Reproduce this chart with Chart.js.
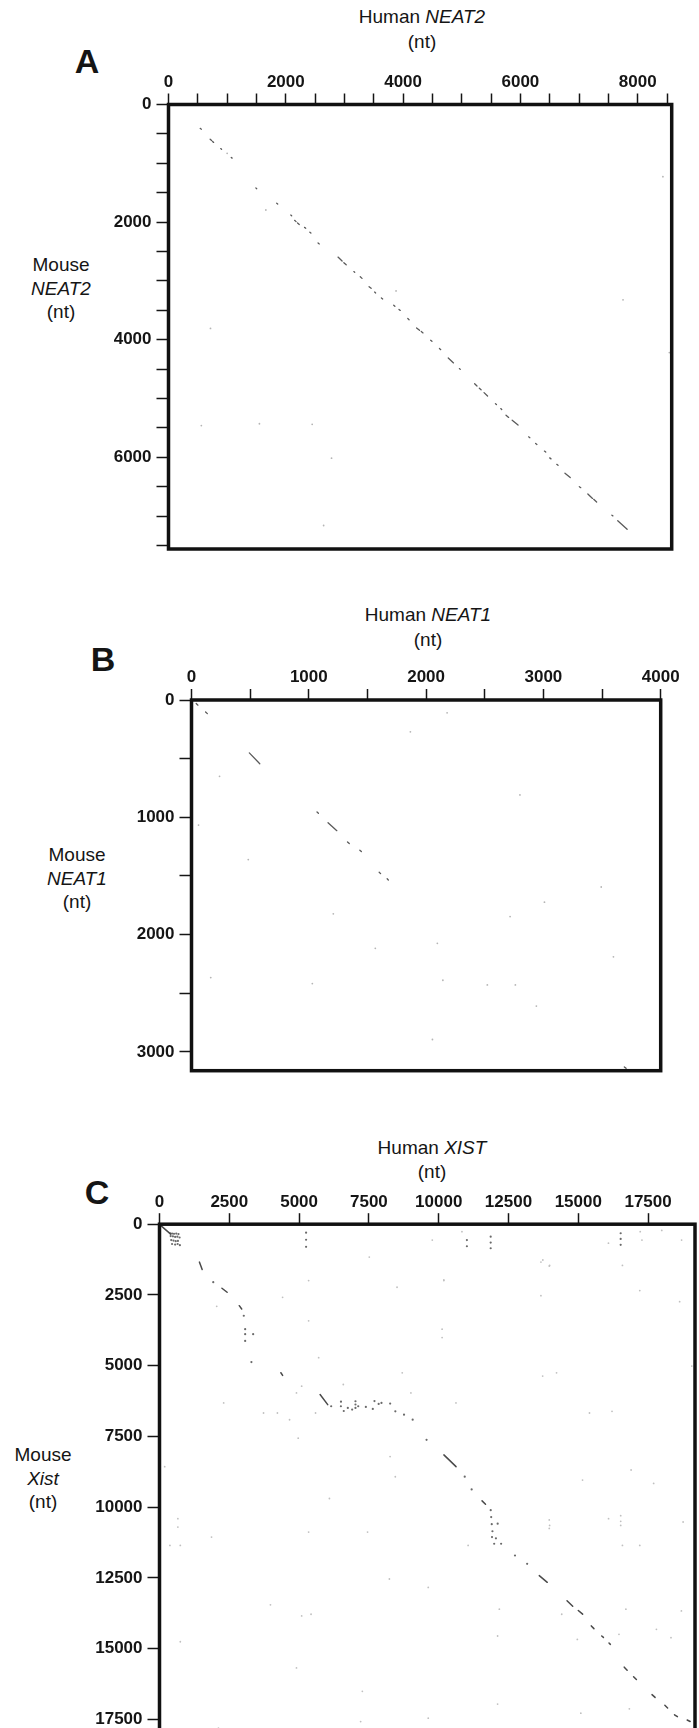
<!DOCTYPE html>
<html>
<head>
<meta charset="utf-8">
<script src="https://cdn.jsdelivr.net/npm/chart.js@4.4.0/dist/chart.umd.min.js"></script>
<style>
  html, body { margin: 0; padding: 0; background: #fff; }
  body { width: 699px; height: 1728px; overflow: hidden; position: relative;
         font-family: "Liberation Sans", Arial, sans-serif; color: #151515; }
  canvas { position: absolute; left: 0; }
  .lbl { position: absolute; font-size: 19px; line-height: 24px; white-space: nowrap;
         text-align: center; transform: translate(-50%, -50%); }
  .letter { position: absolute; font-size: 34px; font-weight: bold; transform: translate(-50%, -50%); }
</style>
</head>
<body>

<div class="letter" style="left:87px;top:61px">A</div>
<div class="lbl" style="left:422px;top:17px">Human <i>NEAT2</i></div>
<div class="lbl" style="left:422px;top:42px">(nt)</div>
<div class="lbl" style="left:61px;top:288px;line-height:23.5px">Mouse<br><i>NEAT2</i><br>(nt)</div>
<canvas id="chartA" width="699" height="570" style="top:0px"></canvas>

<div class="letter" style="left:103px;top:659px">B</div>
<div class="lbl" style="left:428px;top:615px">Human <i>NEAT1</i></div>
<div class="lbl" style="left:428px;top:640px">(nt)</div>
<div class="lbl" style="left:77px;top:878px;line-height:23.5px">Mouse<br><i>NEAT1</i><br>(nt)</div>
<canvas id="chartB" width="699" height="507" style="top:580px"></canvas>

<div class="letter" style="left:97px;top:1192px">C</div>
<div class="lbl" style="left:432px;top:1148px">Human <i>XIST</i></div>
<div class="lbl" style="left:432px;top:1172px">(nt)</div>
<div class="lbl" style="left:43px;top:1478px;line-height:23.5px">Mouse<br><i>Xist</i><br>(nt)</div>
<canvas id="chartC" width="699" height="667" style="top:1100px"></canvas>

<script>
// ---------- panel A : human NEAT2 (x) vs mouse NEAT2 (y) ----------
const A_X_TICKS = [0, 500, 1000, 1500, 2000, 2500, 3000, 3500, 4000, 4500, 5000, 5500, 6000, 6500, 7000, 7500, 8000, 8500];
const A_X_LABELS = [0, 2000, 4000, 6000, 8000];
const A_Y_TICKS = [0, 500, 1000, 1500, 2000, 2500, 3000, 3500, 4000, 4500, 5000, 5500, 6000, 6500, 7000, 7500];
const A_Y_LABELS = [0, 2000, 4000, 6000];

// dashes along the diagonal, start / end pairs split by null
const A_DASH_HUMAN = [540, 560, null, 710, 735, null, 752, 770, null, 890, 905, null, 1070, 1085, null, 1490, 1505, null,
  1845, 1862, null, 2085, 2100, null, 2150, 2175, null, 2200, 2230, null, 2320, 2340, null, 2410, 2428, null,
  2550, 2565, null, 2890, 2960, null, 2990, 3030, null, 3160, 3175, null, 3270, 3300, null, 3420, 3455, null,
  3515, 3532, null, 3630, 3652, null, 3840, 3860, null, 3930, 3952, null, 4080, 4102, null, 4230, 4280, null,
  4310, 4340, null, 4470, 4492, null, 4620, 4642, null, 4770, 4860, null, 4960, 4975, null, 5220, 5260, null,
  5300, 5330, null, 5380, 5440, null, 5575, 5592, null, 5665, 5682, null, 5755, 5800, null, 5860, 5960, null,
  6140, 6162, null, 6260, 6282, null, 6410, 6432, null, 6500, 6522, null, 6620, 6642, null, 6760, 6850, null,
  7005, 7030, null, 7150, 7230, null, 7250, 7300, null, 7560, 7577, null, 7660, 7820];
const A_DASH_MOUSE = [405, 420, null, 590, 612, null, 628, 645, null, 750, 762, null, 900, 912, null, 1420, 1432, null,
  1680, 1694, null, 1880, 1892, null, 1970, 1992, null, 2015, 2040, null, 2090, 2104, null, 2172, 2187, null,
  2355, 2367, null, 2595, 2662, null, 2690, 2725, null, 2842, 2854, null, 2930, 2957, null, 3100, 3127, null,
  3190, 3205, null, 3290, 3307, null, 3415, 3432, null, 3485, 3502, null, 3640, 3660, null, 3800, 3840, null,
  3860, 3885, null, 4010, 4027, null, 4150, 4170, null, 4310, 4395, null, 4492, 4505, null, 4750, 4788, null,
  4825, 4852, null, 4900, 4958, null, 5088, 5102, null, 5172, 5187, null, 5285, 5322, null, 5370, 5452, null,
  5652, 5667, null, 5765, 5782, null, 5895, 5912, null, 6010, 6027, null, 6120, 6137, null, 6270, 6345, null,
  6500, 6517, null, 6625, 6700, null, 6715, 6760, null, 6985, 6997, null, 7080, 7225];
const A_DOT_HUMAN = [8430, 7750, 560, 1550, 2450, 2780, 2645, 716, 3880, 1660, 8540, 1000];
const A_DOT_MOUSE = [1228, 3322, 5460, 5430, 5440, 6016, 7160, 3809, 3170, 1794, 4220, 830];

// ---------- panel B : human NEAT1 (x) vs mouse NEAT1 (y) ----------
const B_X_TICKS = [0, 500, 1000, 1500, 2000, 2500, 3000, 3500, 4000];
const B_X_LABELS = [0, 1000, 2000, 3000, 4000];
const B_Y_TICKS = [0, 500, 1000, 1500, 2000, 2500, 3000];
const B_Y_LABELS = [0, 1000, 2000, 3000];

const B_DASH_HUMAN = [493, 582, null, 1164, 1239, null, 40, 55, null, 120, 135, null, 1330, 1345, null,
  1435, 1448, null, 1600, 1612, null, 1668, 1678, null, 1070, 1082, null, 3690, 3705];
const B_DASH_MOUSE = [451, 543, null, 1046, 1114, null, 30, 44, null, 102, 116, null, 1210, 1224, null,
  1280, 1292, null, 1468, 1480, null, 1524, 1534, null, 955, 966, null, 3128, 3140];
const B_DOT_HUMAN = [239, 1866, 2179, 2800, 60, 484, 3493, 3009, 1209, 2716, 2096, 1567, 3597, 164, 1030,
  2143, 2522, 2761, 2940, 2054];
const B_DOT_MOUSE = [651, 271, 109, 809, 1066, 1360, 1594, 1723, 1823, 1846, 2074, 2117, 2189, 2366, 2417,
  2389, 2429, 2429, 2609, 2894];

// ---------- panel C : human XIST (x) vs mouse Xist (y) ----------
const C_X_TICKS = [0, 2500, 5000, 7500, 10000, 12500, 15000, 17500];
const C_Y_TICKS = [0, 2500, 5000, 7500, 10000, 12500, 15000, 17500];

const C_DASH_HUMAN = [60, 400, null, 1429, 1528, null, 2236, 2422, null, 2857, 2944, null, 4348, 4410, null,
  5752, 6025, null, 10186, 10621, null, 11553, 11677, null, 13602, 13888, null, 14596, 14800, null,
  15000, 15155, null, 15466, 15560, null, 15839, 15900, null, 16100, 16149, null, 16646, 16750, null,
  16980, 17081, null, 17640, 17750, null, 18100, 18199, null, 18447, 18550, null, 18900, 19006];
const C_DASH_MOUSE = [60, 350, null, 1339, 1600, null, 2263, 2405, null, 2879, 2998, null, 5249, 5344, null,
  6019, 6374, null, 8152, 8567, null, 9775, 9893, null, 12417, 12654, null, 13306, 13500, null,
  13650, 13780, null, 14194, 14290, null, 14550, 14600, null, 14800, 14846, null, 15652, 15760, null,
  15990, 16090, null, 16623, 16720, null, 17000, 17097, null, 17334, 17400, null, 17520, 17571];
// stronger matches: block at the 5' end, diagonal dots, the 6-7 kb band and the 11-12 kb streak
const C_HIT_HUMAN = [380, 450, 520, 600, 680, 400, 480, 560, 640, 720, 420, 500, 580, 660, 450, 560, 650, 730,
  1925, 3019, 3068, 3068, 3068, 3354, 3292, 6149, 6497, 6745, 7118, 7391, 7640, 7950, 8261, 8447, 8758, 9068,
  7019, 7019, 7019, 6500, 7700, 7850, 6600, 6900, 9565, 10932, 11180, 11863, 11880, 11900, 11925, 11910,
  12112, 12236, 11987, 12050, 12733, 13168, 5250, 5250, 5250, 11010, 11010, 11862, 11862, 11862, 16518, 16518, 16518];
const C_HIT_MOUSE = [320, 330, 340, 330, 350, 420, 430, 450, 440, 470, 560, 580, 600, 590, 700, 720, 700, 740,
  2050, 3235, 3709, 3886, 4123, 3886, 4870, 6433, 6433, 6493, 6433, 6457, 6528, 6315, 6339, 6611, 6730, 6908,
  6256, 6370, 6493, 6270, 6250, 6350, 6600, 6550, 7618, 8922, 9372, 10106, 10350, 10600, 10850, 11055,
  10581, 11291, 11291, 11100, 11706, 12002, 300, 550, 800, 560, 780, 440, 650, 850, 320, 520, 730];
// faint background matches
const C_NOISE_HUMAN = [9770, 10833, 13730, 13960, 16080, 17218, 17280, 17990, 18700, 10185, 5341, 4409, 2049,
  5341, 5701, 8694, 10184, 10122, 10122, 7514, 13662, 13973, 16581, 17202, 18630, 13662, 15401, 16208, 17699,
  15152, 16891, 13973, 16519, 16084, 18754, 16581, 658, 658, 373, 745, 1863, 5341, 7452, 11054, 8234, 9626,
  3974, 5092, 5428, 12172, 14407, 16705, 18693, 745, 4906, 7266, 12110, 16829, 15091, 2111, 7204, 9626, 8259,
  8446, 6086, 186, 16457, 14966, 12110, 4968, 4906, 5092, 6583, 9005, 10619, 3726, 2298, 4223, 5589, 4658,
  8508, 17202, 17798, 18320, 13724, 14221, 19065, 16519, 16519, 13960, 13960];
const C_NOISE_MOUSE = [560, 265, 1265, 1480, 670, 265, 560, 220, 560, 1970, 1991, 2583, 2903,
  3413, 4716, 5250, 1991, 3709, 4005, 1161, 1339, 1458, 1458, 2346, 2737, 2524, 6672, 6612, 9160,
  9041, 8686, 10642, 10642, 10404, 10523, 11352, 10404, 10701, 11352, 11352, 11056, 10878, 10878, 11352, 12537, 12834,
  13450, 13841, 13782, 13604, 13782, 13604, 13663, 14753, 15678, 16507, 16957, 17123, 17277, 17811, 17574, 17455, 8212,
  8923, 9693, 8568, 14492, 14670, 14551, 7560, 5961, 5724, 5664, 5961, 6316, 6672, 6316, 6672, 6672, 6909,
  2228, 11352, 14314, 14610, 5368, 5250, 5013, 10300, 10500, 10450, 10750];

// ---------- helpers ----------
function pts(xs, ys) {
  return xs.map((x, i) => ({ x: x, y: ys[i] }));
}

const TICK_FONT = { family: '"Liberation Sans", Arial, sans-serif', size: 17, weight: 'bold' };

function xAxis(max, ticks, labels, height) {
  return {
    type: 'linear', position: 'top', min: 0, max: max,
    afterBuildTicks: s => { s.ticks = ticks.map(v => ({ value: v })); },
    afterFit: s => { s.height = height; },
    ticks: {
      autoSkip: false, maxRotation: 0, padding: 1, color: '#151515', font: TICK_FONT,
      callback: v => labels.includes(v) ? String(v) : ''
    },
    grid: { drawOnChartArea: false, drawTicks: true, tickLength: 11, tickColor: '#151515', tickWidth: 1.5 },
    border: { display: false }
  };
}

function yAxis(max, ticks, labels, width) {
  return {
    type: 'linear', position: 'left', reverse: true, min: 0, max: max,
    afterBuildTicks: s => { s.ticks = ticks.map(v => ({ value: v })); },
    afterFit: s => { s.width = width; },
    ticks: {
      autoSkip: false, padding: 5, color: '#151515', font: TICK_FONT,
      callback: v => labels.includes(v) ? String(v) : ''
    },
    grid: { drawOnChartArea: false, drawTicks: true, tickLength: 12, tickColor: '#151515', tickWidth: 1.5 },
    border: { display: false }
  };
}

// the thick box round each dot plot
const framePlugin = {
  id: 'frame',
  afterDraw(chart) {
    const ctx = chart.ctx, a = chart.chartArea;
    ctx.save();
    ctx.lineWidth = 3.5;
    ctx.strokeStyle = '#111';
    ctx.strokeRect(a.left, a.top, a.right - a.left, a.bottom - a.top);
    ctx.restore();
  }
};

function dashSet(xs, ys, color, width) {
  return {
    type: 'scatter', data: pts(xs, ys), showLine: true, spanGaps: false,
    borderColor: color, borderWidth: width, borderCapStyle: 'round',
    pointRadius: 0
  };
}

function dotSet(xs, ys, color, r) {
  return {
    type: 'scatter', data: pts(xs, ys), showLine: false,
    pointRadius: r, pointBorderWidth: 0, pointBackgroundColor: color
  };
}

function makeChart(id, datasets, scales, pad) {
  return new Chart(document.getElementById(id), {
    type: 'scatter',
    data: { datasets: datasets },
    options: {
      responsive: false, animation: false, events: [],
      layout: { padding: pad },
      scales: scales,
      plugins: { legend: { display: false }, tooltip: { enabled: false } }
    },
    plugins: [framePlugin]
  });
}

makeChart('chartA', [
  dashSet(A_DASH_HUMAN, A_DASH_MOUSE, '#5a5a5a', 1.3),
  dotSet(A_DOT_HUMAN, A_DOT_MOUSE, '#b5b5b5', 0.9)
], {
  x: xAxis(8580, A_X_TICKS, A_X_LABELS, 104.5),
  y: yAxis(7560, A_Y_TICKS, A_Y_LABELS, 168.5)
}, { left: 0, top: 0, right: 27.3, bottom: 21 });

makeChart('chartB', [
  dashSet(B_DASH_HUMAN, B_DASH_MOUSE, '#5a5a5a', 1.3),
  dotSet(B_DOT_HUMAN, B_DOT_MOUSE, '#b5b5b5', 0.9)
], {
  x: xAxis(4000, B_X_TICKS, B_X_LABELS, 120),
  y: yAxis(3160, B_Y_TICKS, B_Y_LABELS, 191.5)
}, { left: 0, top: 0, right: 38.3, bottom: 16.3 });

makeChart('chartC', [
  dashSet(C_DASH_HUMAN, C_DASH_MOUSE, '#4a4a4a', 1.5),
  dotSet(C_HIT_HUMAN, C_HIT_MOUSE, '#6a6a6a', 1.1),
  dotSet(C_NOISE_HUMAN, C_NOISE_MOUSE, '#c0c0c0', 0.9)
], {
  x: xAxis(19180, C_X_TICKS, C_X_TICKS, 124.2),
  y: yAxis(18600, C_Y_TICKS, C_Y_TICKS, 159.5)
}, { left: 0, top: 0, right: 0, bottom: 16.4 });
</script>
</body>
</html>
